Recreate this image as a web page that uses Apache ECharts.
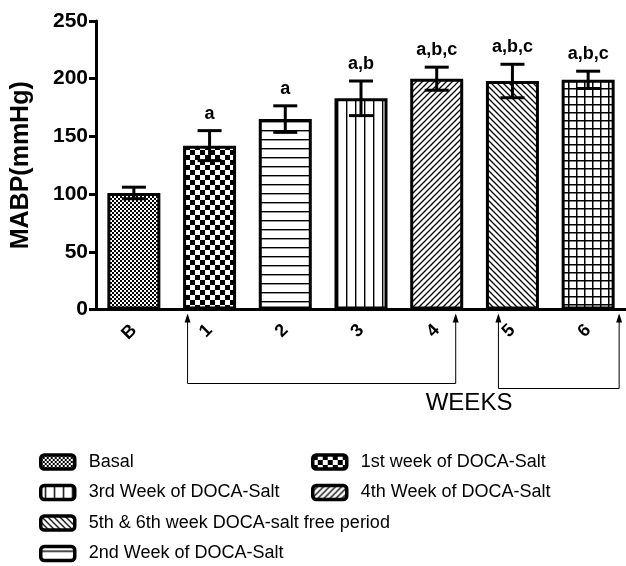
<!DOCTYPE html>
<html>
<head>
<meta charset="utf-8">
<script src="https://cdn.jsdelivr.net/npm/echarts@6/dist/echarts.min.js"></script>
<style>
  html, body { margin: 0; padding: 0; background: #fff; }
  #chart { width: 626px; height: 566px; }
</style>
</head>
<body>
<div id="chart"></div>
<script>
// data
const categories = ['B', '1', '2', '3', '4', '5', '6'];
const mabp = [101, 142, 165, 183, 200, 198, 199];
const sem = [5, 13, 11.5, 15, 10, 14.5, 7.5];
const sigLabels = ['', 'a', 'a', 'a,b', 'a,b,c', 'a,b,c', 'a,b,c'];
const groupNames = [
    'Basal',
    '1st week of DOCA-Salt',
    '2nd Week of DOCA-Salt',
    '3rd Week of DOCA-Salt',
    '4th Week of DOCA-Salt',
    '5th & 6th week DOCA-salt free period'
];
const groupOfBar = [0, 1, 2, 3, 4, 5, 5];

const FONT = "'Liberation Sans', Arial, sans-serif";

// small canvas tiles used as fill patterns
function makePattern(size, draw) {
    const c = document.createElement('canvas');
    c.width = size;
    c.height = size;
    const ctx = c.getContext('2d');
    ctx.fillStyle = '#fff';
    ctx.fillRect(0, 0, size, size);
    ctx.fillStyle = '#000';
    ctx.strokeStyle = '#000';
    draw(ctx, size);
    return { image: c, repeat: 'repeat' };
}

const patterns = [
    // basal: fine checker
    makePattern(4, (ctx) => { ctx.fillRect(0, 0, 2, 2); ctx.fillRect(2, 2, 2, 2); }),
    // week 1: coarse checker
    makePattern(10, (ctx) => { ctx.fillRect(0, 0, 5, 5); ctx.fillRect(5, 5, 5, 5); }),
    // week 2: horizontal lines
    makePattern(9, (ctx, s) => { ctx.fillRect(0, 4, s, 1.4); }),
    // week 3: vertical lines
    makePattern(9, (ctx, s) => { ctx.fillRect(4, 0, 1.4, s); }),
    // week 4: forward diagonals
    makePattern(6, (ctx, s) => {
        ctx.lineWidth = 1.3;
        ctx.beginPath();
        ctx.moveTo(0, s); ctx.lineTo(s, 0);
        ctx.moveTo(-1, 1); ctx.lineTo(1, -1);
        ctx.moveTo(s - 1, s + 1); ctx.lineTo(s + 1, s - 1);
        ctx.stroke();
    }),
    // weeks 5/6 (salt free): back diagonals
    makePattern(6, (ctx, s) => {
        ctx.lineWidth = 1.3;
        ctx.beginPath();
        ctx.moveTo(0, 0); ctx.lineTo(s, s);
        ctx.moveTo(s - 1, -1); ctx.lineTo(s + 1, 1);
        ctx.moveTo(-1, s - 1); ctx.lineTo(1, s + 1);
        ctx.stroke();
    })
];
// week 6 bar is drawn with a grid, though it shares the legend entry
const gridPattern = makePattern(8, (ctx, s) => { ctx.fillRect(0, 0, s, 1.5); ctx.fillRect(0, 0, 1.5, s); });

var chart = echarts.init(document.getElementById('chart'));

const barSeries = groupNames.map((name, g) => ({
    name: name,
    type: 'bar',
    barWidth: 53,
    barGap: '-100%',
    itemStyle: { color: patterns[g], borderColor: '#000', borderWidth: 3 },
    data: mabp.map((v, i) => {
        if (groupOfBar[i] !== g) return '-';
        if (i === 6) return { value: v, itemStyle: { color: gridPattern } };
        return v;
    })
}));

const errorSeries = {
    type: 'custom',
    z: 5,
    data: mabp.map((v, i) => [i, v, sem[i]]),
    encode: { x: 0, y: 1 },
    renderItem: function (params, api) {
        const x = api.value(0);
        const m = api.value(1);
        const e = api.value(2);
        const top = api.coord([x, m + e]);
        const bot = api.coord([x, m - e]);
        const half = 12;
        const st = { stroke: '#000', lineWidth: 3 };
        return {
            type: 'group',
            children: [
                { type: 'line', shape: { x1: top[0], y1: top[1], x2: bot[0], y2: bot[1] }, style: st },
                { type: 'line', shape: { x1: top[0] - half, y1: top[1], x2: top[0] + half, y2: top[1] }, style: st },
                { type: 'line', shape: { x1: bot[0] - half, y1: bot[1], x2: bot[0] + half, y2: bot[1] }, style: st },
                {
                    type: 'text', x: top[0], y: top[1] - 8,
                    style: {
                        text: sigLabels[params.dataIndex], align: 'center', verticalAlign: 'bottom',
                        fontFamily: FONT, fontWeight: 'bold', fontSize: 18, fill: '#000'
                    }
                }
            ]
        };
    }
};

const legendBase = {
    orient: 'vertical',
    padding: 0,
    itemWidth: 34,
    itemHeight: 14,
    itemGap: 12.5,
    icon: 'roundRect',
    itemStyle: { borderColor: '#000', borderWidth: 3.5 },
    textStyle: { fontFamily: FONT, fontSize: 18, lineHeight: 18, color: '#000', padding: [0, 0, 0, 9] },
    selectedMode: false
};

var option = {
    animation: false,
    grid: { left: 96, top: 21, width: 534, bottom: 256.5 },
    legend: [
        Object.assign({}, legendBase, { left: 39, top: 453, data: [groupNames[0], groupNames[3], groupNames[5], groupNames[2]] }),
        Object.assign({}, legendBase, { left: 311, top: 453, data: [groupNames[1], groupNames[4]] })
    ],
    xAxis: {
        type: 'category',
        data: categories,
        axisLine: { lineStyle: { color: '#000', width: 3 } },
        axisTick: { alignWithLabel: true, length: 6, lineStyle: { color: '#000', width: 2 } },
        axisLabel: { rotate: 45, margin: 18, fontFamily: FONT, fontWeight: 'bold', fontSize: 18, color: '#000' }
    },
    yAxis: {
        type: 'value',
        min: 0,
        max: 250,
        interval: 50,
        name: 'MABP(mmHg)',
        nameLocation: 'middle',
        nameGap: 62,
        nameTextStyle: { fontFamily: FONT, fontWeight: 'bold', fontSize: 25, color: '#000' },
        splitLine: { show: false },
        axisLine: { show: true, lineStyle: { color: '#000', width: 3 } },
        axisTick: { show: true, length: 7, lineStyle: { color: '#000', width: 3 } },
        axisLabel: { fontFamily: FONT, fontWeight: 'bold', fontSize: 21, color: '#000', margin: 8 }
    },
    series: barSeries.concat([errorSeries])
};

option && chart.setOption(option);

// week brackets under the axis
function bracket(x1, x2, yTip, yLine) {
    const ln = { stroke: '#000', lineWidth: 1 };
    const head = (x) => ({
        type: 'polygon', shape: { points: [[x, yTip], [x - 3, yTip + 9], [x + 3, yTip + 9]] }, style: { fill: '#000' }
    });
    return [
        { type: 'polyline', shape: { points: [[x1, yTip + 2], [x1, yLine], [x2, yLine], [x2, yTip + 2]] }, style: Object.assign({ fill: null }, ln) },
        head(x1),
        head(x2)
    ];
}

const px = (i) => chart.convertToPixel({ xAxisIndex: 0 }, i);
const base = chart.convertToPixel({ yAxisIndex: 0 }, 0);

chart.setOption({
    graphic: bracket(px(1) - 22, px(4) + 19, base + 4, base + 74)
        .concat(bracket(px(5) - 14, px(6) + 31, base + 4, base + 79))
        .concat([{
            type: 'text', x: px(4) - 11, y: base + 82,
            style: { text: 'WEEKS', fontFamily: FONT, fontSize: 24, fill: '#000' }
        }])
});
</script>
</body>
</html>
